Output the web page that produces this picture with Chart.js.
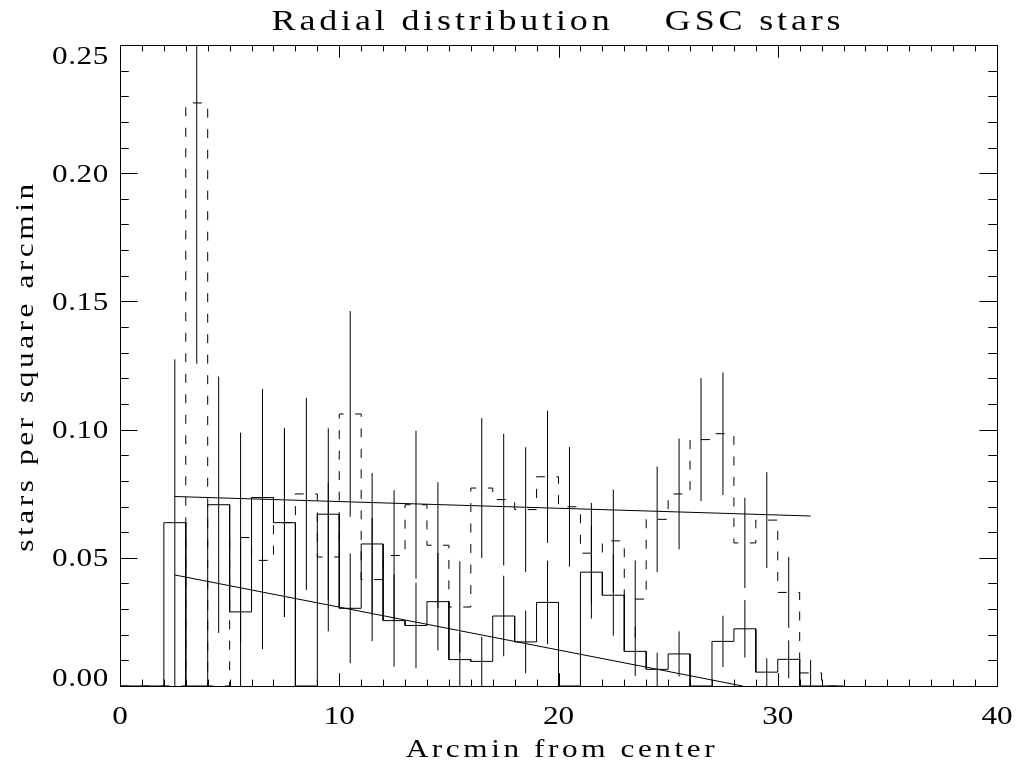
<!DOCTYPE html>
<html>
<head>
<meta charset="utf-8">
<title>Radial distribution GSC stars</title>
<script src="https://cdn.jsdelivr.net/npm/chart.js"></script>
<style>
  html, body { margin: 0; padding: 0; background: #fff; }
  canvas { display: block; }
</style>
</head>
<body>
<canvas id="radialChart" width="1026" height="761"></canvas>
<script>
// radial bins, 1 arcmin wide (lower edge of each bin)
const binStart = [0, 1, 2, 3, 4, 5, 6, 7, 8, 9, 10, 11, 12, 13, 14, 15, 16,
                  17, 18, 19, 20, 21, 22, 23, 24, 25, 26, 27, 28, 29, 30, 31, 32];

// solid histogram (stars per square arcmin) and its error bars
const solidDensity = [0, 0, 0.0637, 0, 0.0707, 0.0289, 0.0735, 0.0637, 0, 0.0670, 0.0303,
                      0.0554, 0.0255, 0.0236, 0.0329, 0.0103, 0.0096, 0.0273, 0.0172, 0.0326,
                      0, 0.0444, 0.0354, 0.0135, 0.0065, 0.0125, 0, 0.0174, 0.0223, 0.0054,
                      0.0104, 0, 0];
const solidError = [0, 0, 0.0637, 0, 0.0500, 0.0289, 0.0424, 0.0368, 0, 0.0335, 0.0214,
                    0.0277, 0.0180, 0.0167, 0.0190, 0.0103, 0.0096, 0.0157, 0.0122, 0.0163,
                    0, 0.0181, 0.0158, 0.0096, 0.0065, 0.0088, 0, 0.0100, 0.0112, 0.0054,
                    0.0074, 0, 0];

// dashed histogram and its error bars
const dashedDensity = [0, 0, 0, 0.2274, 0, 0.0579, 0.0490, 0.0637, 0.0749, 0.0503, 0.1061,
                       0.0415, 0.0509, 0.0707, 0.0549, 0.0308, 0.0772, 0.0727, 0.0688, 0.0816,
                       0.0699, 0.0518, 0.0566, 0.0339, 0.0650, 0.0749, 0.0961, 0.0984, 0.0558,
                       0.0647, 0.0365, 0.0051, 0];
const dashedError = [0, 0, 0, 0.1017, 0, 0.0409, 0.0346, 0.0368, 0.0375, 0.0290, 0.0401,
                     0.0240, 0.0255, 0.0289, 0.0246, 0.0178, 0.0273, 0.0257, 0.0243, 0.0258,
                     0.0233, 0.0196, 0.0200, 0.0151, 0.0206, 0.0216, 0.0240, 0.0239, 0.0176,
                     0.0187, 0.0138, 0.0051, 0];

// straight-line fits
const upperFitX = [2.5, 31.5];
const upperFitY = [0.0739, 0.0663];
const lowerFitX = [2.5, 28.4];
const lowerFitY = [0.0433, 0];

// axes
const xTicks = [0, 10, 20, 30, 40];
const yTicks = [0.00, 0.05, 0.10, 0.15, 0.20, 0.25];
const xMinorStep = 1;
const yMinorStep = 0.01;

const FONT = '"Liberation Serif", "DejaVu Serif", serif';

function histPoints(values) {
  const pts = [];
  binStart.forEach((x0, i) => {
    pts.push({ x: x0, y: values[i] }, { x: x0 + 1, y: values[i] });
  });
  return pts;
}

function errorBarPoints(values, errors) {
  const pts = [];
  binStart.forEach((x0, i) => {
    if (!errors[i]) return;
    const xc = x0 + 0.5;
    pts.push({ x: xc, y: Math.max(0, values[i] - errors[i]) },
             { x: xc, y: values[i] + errors[i] },
             { x: xc, y: null });
  });
  return pts;
}

function linePoints(xs, ys) {
  return xs.map((x, i) => ({ x: x, y: ys[i] }));
}

function drawText(ctx, text, x, y, size, opts) {
  ctx.save();
  ctx.font = size + 'px ' + FONT;
  ctx.fillStyle = '#000';
  ctx.letterSpacing = (opts.spacing || 0) + 'px';
  ctx.translate(x, y);
  if (opts.rotate) ctx.rotate(opts.rotate);
  ctx.scale(opts.sx || 1, 1);
  ctx.textAlign = opts.align || 'center';
  ctx.textBaseline = 'alphabetic';
  ctx.fillText(text, 0, 0);
  ctx.restore();
}

// frame with inward ticks on all four sides, plus all text
const idlFrame = {
  id: 'idlFrame',
  afterDraw(chart) {
    const { ctx, chartArea: a, scales: { x, y } } = chart;
    const crisp = v => Math.round(v) + 0.5;
    ctx.save();
    ctx.strokeStyle = '#000';
    ctx.lineWidth = 1;
    ctx.strokeRect(crisp(a.left), crisp(a.top), Math.round(a.right - a.left), Math.round(a.bottom - a.top));

    const xMajorLen = 0.02 * (a.bottom - a.top);
    const yMajorLen = 0.02 * (a.right - a.left);
    ctx.beginPath();
    for (let v = x.min; v <= x.max + 1e-9; v += xMinorStep) {
      const px = crisp(x.getPixelForValue(v));
      const len = xTicks.includes(Math.round(v)) ? xMajorLen : xMajorLen / 2;
      ctx.moveTo(px, a.bottom); ctx.lineTo(px, a.bottom - len);
      ctx.moveTo(px, a.top); ctx.lineTo(px, a.top + len);
    }
    for (let i = 0; i <= Math.round((y.max - y.min) / yMinorStep); i++) {
      const v = y.min + i * yMinorStep;
      const py = crisp(y.getPixelForValue(v));
      const len = (i % 5 === 0) ? yMajorLen : yMajorLen / 2;
      ctx.moveTo(a.left, py); ctx.lineTo(a.left + len, py);
      ctx.moveTo(a.right, py); ctx.lineTo(a.right - len, py);
    }
    ctx.stroke();
    ctx.restore();

    // tick labels
    xTicks.forEach(v => {
      drawText(ctx, String(v), x.getPixelForValue(v), 724, 26, { sx: 1.2 });
    });
    yTicks.forEach((v, i) => {
      let base = y.getPixelForValue(v) + 8.5;
      if (i === 0) base = a.bottom;
      if (i === yTicks.length - 1) base = a.top + 19;
      drawText(ctx, v.toFixed(2), 109, base, 26, { sx: 1.2, align: 'right', spacing: 0.5 });
    });

    // titles
    drawText(ctx, 'Radial distribution    GSC stars', 558, 30, 30, { sx: 1.2, spacing: 3.2 });
    drawText(ctx, 'Arcmin from center', 562, 757, 26, { sx: 1.2, spacing: 3 });
    drawText(ctx, 'stars per square arcmin', 33, 366, 26, { sx: 1.2, spacing: 3, rotate: -Math.PI / 2 });
  }
};

const baseLine = { type: 'line', borderColor: '#000', borderWidth: 1, pointRadius: 0, tension: 0, fill: false, spanGaps: false };

new Chart(document.getElementById('radialChart').getContext('2d'), {
  type: 'line',
  data: {
    datasets: [
      Object.assign({ label: 'solid', data: histPoints(solidDensity) }, baseLine),
      Object.assign({ label: 'dashed', data: histPoints(dashedDensity), borderDash: [9, 11.5] }, baseLine),
      Object.assign({ label: 'solid errors', data: errorBarPoints(solidDensity, solidError) }, baseLine),
      Object.assign({ label: 'dashed errors', data: errorBarPoints(dashedDensity, dashedError) }, baseLine),
      Object.assign({ label: 'upper fit', data: linePoints(upperFitX, upperFitY) }, baseLine),
      Object.assign({ label: 'lower fit', data: linePoints(lowerFitX, lowerFitY) }, baseLine)
    ]
  },
  options: {
    responsive: false,
    animation: false,
    devicePixelRatio: 1,
    events: [],
    layout: { padding: { left: 120, right: 29, top: 45, bottom: 75 } },
    plugins: { legend: { display: false }, tooltip: { enabled: false }, title: { display: false } },
    scales: {
      x: { type: 'linear', min: 0, max: 40, display: false },
      y: { type: 'linear', min: 0, max: 0.25, display: false }
    }
  },
  plugins: [idlFrame]
});
</script>
</body>
</html>
